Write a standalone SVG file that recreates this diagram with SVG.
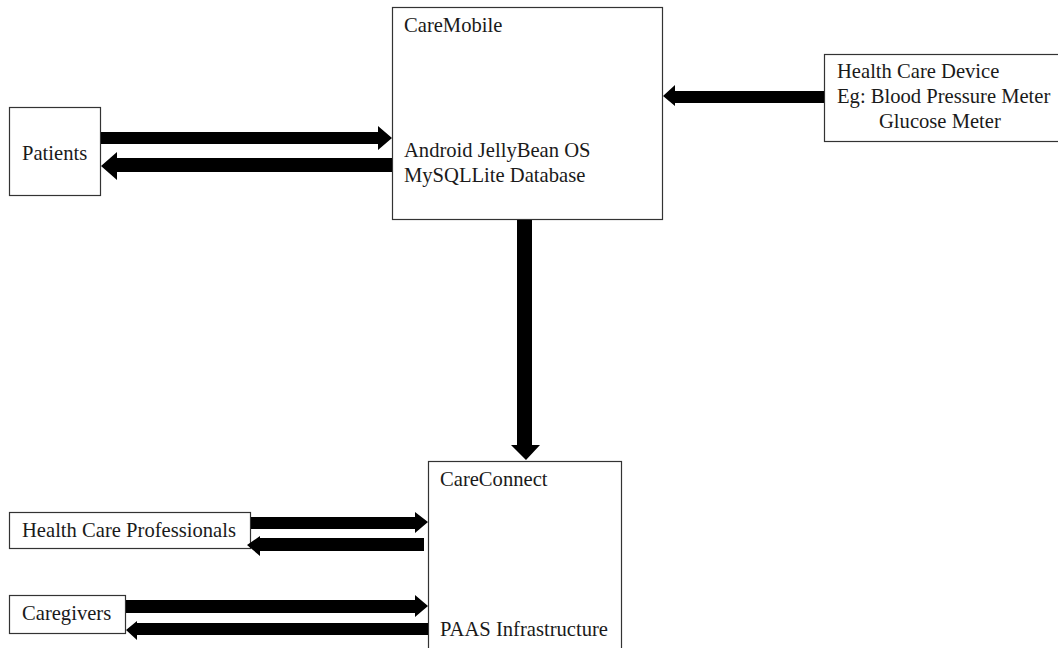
<svg xmlns="http://www.w3.org/2000/svg" width="1058" height="648" viewBox="0 0 1058 648">
<style>
.box{fill:#fff;stroke:#333;stroke-width:1.2}
.t{font-family:"Liberation Serif","Times New Roman",serif;font-size:20.6px;fill:#1a1a1a}
.arr{fill:#000}
</style>
<rect width="1058" height="648" fill="#fff"/>
<g id="patients"><rect class="box" x="9.5" y="107.5" width="91" height="88"/><text class="t" x="22" y="160">Patients</text></g>
<g id="caremobile"><rect class="box" x="392.5" y="7.5" width="270" height="212"/>
<text class="t" x="404" y="32">CareMobile</text>
<text class="t" x="404" y="157">Android JellyBean OS</text>
<text class="t" x="404" y="182">MySQLLite Database</text></g>
<g id="device"><rect class="box" x="824.5" y="54.5" width="240" height="87"/>
<text class="t" x="837" y="78">Health Care Device</text>
<text class="t" x="837" y="103">Eg: Blood Pressure Meter</text>
<text class="t" x="879" y="128">Glucose Meter</text></g>
<g id="careconnect"><rect class="box" x="428.5" y="461.5" width="193" height="200"/>
<text class="t" x="440" y="486">CareConnect</text>
<text class="t" x="440" y="636">PAAS Infrastructure</text></g>
<g id="hcp"><rect class="box" x="9.5" y="512.5" width="241" height="36"/><text class="t" x="22" y="537">Health Care Professionals</text></g>
<g id="caregivers"><rect class="box" x="9.5" y="595.5" width="116" height="38"/><text class="t" x="22" y="620">Caregivers</text></g>
<g id="connectors">
<polygon class="arr" points="101,132 378,132 378,126 392,138 378,150 378,144 101,144"/>
<polygon class="arr" points="392,158 117,158 117,152 101,166 117,180 117,172 392,172"/>
<polygon class="arr" points="824,91 675,91 675,85 663,96 675,106 675,103 824,103"/>
<polygon class="arr" points="517,220 532,220 532,445 540,445 526,460 511,445 517,445"/>
<polygon class="arr" points="251,517 415,517 415,512 428,522 415,533 415,529 251,529"/>
<polygon class="arr" points="424,538 260,538 260,536 247,545 260,556 260,551 424,551"/>
<polygon class="arr" points="126,600 415,600 415,595 428,606 415,617 415,613 126,613"/>
<polygon class="arr" points="428,623 137,623 137,621 126,630 137,640 137,635 428,635"/>
</g>
</svg>
